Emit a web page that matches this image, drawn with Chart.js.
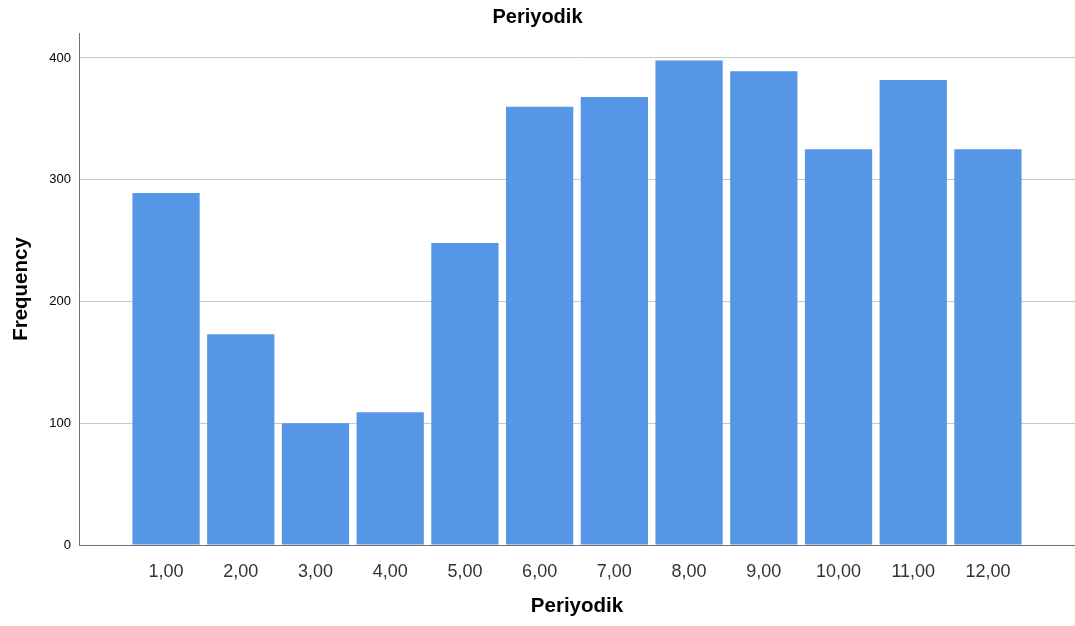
<!DOCTYPE html>
<html>
<head>
  <title>Periyodik</title>
  <script src="https://cdn.jsdelivr.net/npm/chart.js"></script>
  <style>
    body { margin: 0; background: #fff; }
  </style>
</head>
<body>
  <canvas id="myChart" width="1075" height="626"></canvas>

  <script>
    // categories and counts
    const categories = [1, 2, 3, 4, 5, 6, 7, 8, 9, 10, 11, 12];
    const frequencies = [289, 173, 100, 109, 248, 360, 368, 398, 389, 325, 382, 325];
    const yTicks = [0, 100, 200, 300, 400];

    const fmt = v => v.toFixed(2).replace('.', ',');

    const ctx = document.getElementById('myChart').getContext('2d');
    const myChart = new Chart(ctx, {
      type: 'bar',
      data: {
        datasets: [{
          label: 'Periyodik',
          data: categories.map((c, i) => ({ x: c, y: frequencies[i] })),
          backgroundColor: '#5596e6',
          borderWidth: 0,
          barPercentage: 0.9,
          categoryPercentage: 1
        }]
      },
      options: {
        responsive: false,
        animation: false,
        layout: { padding: 0 },
        plugins: {
          legend: { display: false },
          tooltip: { enabled: false },
          title: {
            display: true,
            text: 'Periyodik',
            color: '#000',
            font: { family: 'Liberation Sans', size: 20, weight: 'bold' },
            padding: { top: 5, bottom: 4 }
          }
        },
        scales: {
          x: {
            type: 'linear',
            offset: false,
            min: -0.165,
            max: 13.165,
            afterBuildTicks: s => { s.ticks = categories.map(v => ({ value: v })); },
            afterFit: s => { s.height = 81; },
            grid: { display: false },
            border: { display: true, color: '#707070', width: 1 },
            ticks: {
              callback: v => fmt(v),
              color: '#333',
              padding: 8,
              font: { family: 'Liberation Sans', size: 18 }
            },
            title: {
              display: true,
              text: 'Periyodik',
              color: '#000',
              font: { family: 'Liberation Sans', size: 20.5, weight: 'bold' },
              padding: { top: 4, bottom: 7 }
            }
          },
          y: {
            min: 0,
            max: 420.5,
            afterBuildTicks: s => { s.ticks = yTicks.map(v => ({ value: v })); },
            afterFit: s => { s.width = 79; },
            grid: {
              color: ctx => ctx.tick && ctx.tick.value === 0 ? 'rgba(0,0,0,0)' : '#c8c8c8',
              lineWidth: 1,
              drawTicks: false
            },
            border: { display: true, color: '#707070', width: 1 },
            ticks: {
              color: '#000',
              padding: 8,
              font: { family: 'Liberation Sans', size: 13 }
            },
            title: {
              display: true,
              text: 'Frequency',
              color: '#000',
              font: { family: 'Liberation Sans', size: 20.5, weight: 'bold' },
              padding: { top: 9, bottom: 0 }
            }
          }
        }
      }
    });
  </script>
</body>
</html>
